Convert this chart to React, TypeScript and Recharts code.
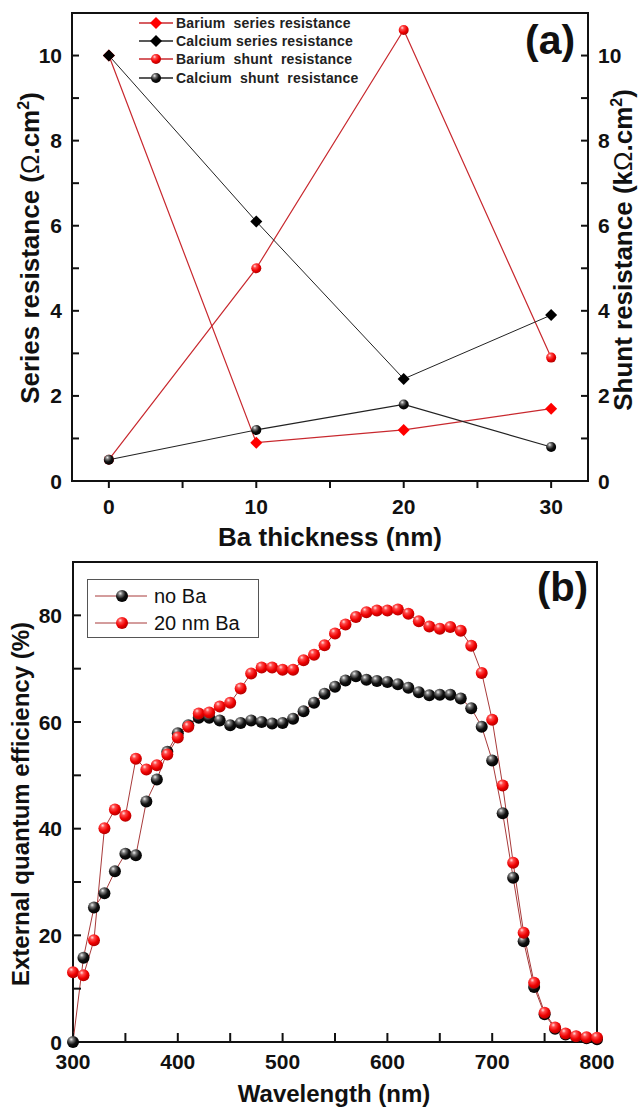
import React from "react";
import { LineChart, Line, XAxis, YAxis, ReferenceArea } from "recharts";

// ---- panel (a) data ----
const thickness = [0, 10, 20, 30];
const bariumSeries = [10, 0.9, 1.2, 1.7];
const calciumSeries = [10, 6.1, 2.4, 3.9];
const bariumShunt = [0.5, 5.0, 10.6, 2.9];
const calciumShunt = [0.5, 1.2, 1.8, 0.8];

const thicknessTicks = [0, 5, 10, 15, 20, 25, 30];
const thicknessLabels = [0, 10, 20, 30];
const resistanceTicks = [0, 1, 2, 3, 4, 5, 6, 7, 8, 9, 10];
const resistanceLabels = [0, 2, 4, 6, 8, 10];

// ---- panel (b) data ----
const wavelength = [
  300, 310, 320, 330, 340, 350, 360, 370, 380, 390, 400, 410, 420, 430, 440, 450, 460,
  470, 480, 490, 500, 510, 520, 530, 540, 550, 560, 570, 580, 590, 600, 610, 620, 630,
  640, 650, 660, 670, 680, 690, 700, 710, 720, 730, 740, 750, 760, 770, 780, 790, 800,
];
const noBa = [
  0, 15.8, 25.2, 27.9, 32, 35.3, 35, 45.1, 49.2, 54.4, 57.9, 59.4, 60.8, 60.8, 60.3, 59.4, 59.8,
  60.3, 60, 59.7, 59.8, 60.6, 62, 63.6, 65.3, 66.6, 67.8, 68.6, 67.9, 67.7, 67.5, 67.1, 66.4, 65.6,
  65, 65.1, 65.1, 64.4, 62.6, 59.1, 52.8, 42.9, 30.8, 18.9, 10.3, 5.2, 2.5, 1.4, 1.0, 0.7, 0.5,
];
const ba20nm = [
  13.1, 12.5, 19.1, 40.1, 43.6, 42.4, 53.1, 51.1, 51.9, 53.9, 57.1, 59.1, 61.6, 61.8, 62.9, 63.6, 66.3,
  69.1, 70.2, 70.2, 69.8, 69.8, 71.6, 72.6, 74.4, 76.6, 78.3, 79.7, 80.6, 80.9, 80.9, 81.1, 80.3, 78.9,
  77.9, 77.5, 77.8, 77.1, 74.3, 69.2, 60.4, 48.1, 33.6, 20.5, 11.1, 5.5, 2.7, 1.6, 1.1, 0.9, 0.8,
];
const wavelengthTicks = [300, 350, 400, 450, 500, 550, 600, 650, 700, 750, 800];
const wavelengthLabels = [300, 400, 500, 600, 700, 800];
const eqeTicks = [0, 10, 20, 30, 40, 50, 60, 70, 80];
const eqeLabels = [0, 20, 40, 60, 80];

const dataA = thickness.map((t, i) => ({
  x: t,
  bs: bariumSeries[i],
  cs: calciumSeries[i],
  bsh: bariumShunt[i],
  csh: calciumShunt[i],
}));
const dataB = wavelength.map((w, i) => ({ w, noBa: noBa[i], ba: ba20nm[i] }));

const FONT = '"Liberation Sans", Arial, sans-serif';
const RED_LINE = "#c8282e";
const EQE_LINE = "#a83a3a";
const TICK_LINE = { stroke: "#111", strokeWidth: 2 };

// label renderer: text only for major values, minor ticks keep just the tick line
function makeLabel(anchor: "middle" | "end" | "start", labels: number[], dy: number) {
  return (props: any) => {
    const { x, y, payload } = props;
    const v = payload.value;
    if (!labels.includes(v)) return <g />;
    return (
      <text x={x} y={y + dy} textAnchor={anchor} fontFamily={FONT} fontWeight={700} fontSize={21} fill="#111">
        {v}
      </text>
    );
  };
}

function Sphere({ cx, cy, r, color }: { cx: number; cy: number; r: number; color: string }) {
  return <circle cx={cx} cy={cy} r={r} fill={`url(#sphere-${color})`} />;
}

function Diamond({ cx, cy, s, fill }: { cx: number; cy: number; s: number; fill: string }) {
  return <polygon points={`${cx},${cy - s} ${cx + s},${cy} ${cx},${cy + s} ${cx - s},${cy}`} fill={fill} />;
}

const diamondDot = (fill: string) => (p: any) =>
  p.cx == null ? <g key={p.index} /> : <g key={p.index}><Diamond cx={p.cx} cy={p.cy} s={6} fill={fill} /></g>;
const sphereDot = (color: string, r: number) => (p: any) =>
  p.cx == null ? <g key={p.index} /> : <g key={p.index}><Sphere cx={p.cx} cy={p.cy} r={r} color={color} /></g>;

const legendA = [
  { label: "Barium  series resistance", line: RED_LINE, kind: "diamond", color: "#ff0000" },
  { label: "Calcium series resistance", line: "#222", kind: "diamond", color: "#000" },
  { label: "Barium  shunt  resistance", line: RED_LINE, kind: "sphere", color: "red" },
  { label: "Calcium  shunt  resistance", line: "#222", kind: "sphere", color: "black" },
];

const rotated = (cx: number, cy: number, size: number, content: React.ReactNode) => (
  <div
    style={{
      position: "absolute",
      left: cx,
      top: cy,
      transform: "translate(-50%, -50%) rotate(-90deg)",
      whiteSpace: "nowrap",
      fontSize: size,
      fontWeight: 700,
      color: "#111",
      lineHeight: 1,
    }}
  >
    {content}
  </div>
);

export default function App() {
  return (
    <div style={{ position: "absolute", left: 0, top: 0, width: 638, height: 1107, background: "#fff", fontFamily: FONT }}>
      <svg width={0} height={0} style={{ position: "absolute" }}>
        <defs>
          <radialGradient id="sphere-black" cx="0.38" cy="0.32" r="0.7" fx="0.35" fy="0.28">
            <stop offset="0" stopColor="#f0f0f0" />
            <stop offset="0.25" stopColor="#777" />
            <stop offset="0.6" stopColor="#111" />
            <stop offset="1" stopColor="#000" />
          </radialGradient>
          <radialGradient id="sphere-red" cx="0.38" cy="0.32" r="0.7" fx="0.35" fy="0.28">
            <stop offset="0" stopColor="#ffe0e0" />
            <stop offset="0.25" stopColor="#ff4a4a" />
            <stop offset="0.65" stopColor="#ee0000" />
            <stop offset="1" stopColor="#b00000" />
          </radialGradient>
        </defs>
      </svg>

      {/* panel (a) */}
      <div style={{ position: "absolute", left: 0, top: 0 }}>
        <LineChart width={638} height={530} data={dataA} margin={{ top: 13, right: 0, bottom: 0, left: 0 }}>
          <XAxis
            type="number"
            dataKey="x"
            domain={[-2.5, 32.5]}
            ticks={thicknessTicks}
            interval={0}
            height={49}
            axisLine={false}
            tickLine={TICK_LINE}
            tickSize={7}
            tickMargin={0}
            tick={makeLabel("middle", thicknessLabels, 26)}
          />
          <YAxis
            yAxisId="left"
            type="number"
            domain={[0, 11]}
            ticks={resistanceTicks}
            interval={0}
            width={72}
            axisLine={false}
            tickLine={TICK_LINE}
            tickSize={-7}
            tickMargin={17}
            tick={makeLabel("end", resistanceLabels, 7.5)}
          />
          <YAxis
            yAxisId="right"
            orientation="right"
            type="number"
            domain={[0, 11]}
            ticks={resistanceTicks}
            interval={0}
            width={50}
            axisLine={false}
            tickLine={TICK_LINE}
            tickSize={-7}
            tickMargin={17}
            tick={makeLabel("start", resistanceLabels, 7.5)}
          />
          <ReferenceArea yAxisId="left" x1={-2.5} x2={32.5} y1={0} y2={11} fill="none" stroke="#111" strokeWidth={2} />
          <Line yAxisId="left" dataKey="bs" stroke={RED_LINE} strokeWidth={1.2} dot={diamondDot("#ff0000")} isAnimationActive={false} />
          <Line yAxisId="right" dataKey="bsh" stroke={RED_LINE} strokeWidth={1.2} dot={sphereDot("red", 5)} isAnimationActive={false} />
          <Line yAxisId="left" dataKey="cs" stroke="#222" strokeWidth={1} dot={diamondDot("#000")} isAnimationActive={false} />
          <Line yAxisId="right" dataKey="csh" stroke="#222" strokeWidth={1.2} dot={sphereDot("black", 5)} isAnimationActive={false} />
        </LineChart>
      </div>

      {/* legend (a) */}
      {legendA.map((item, i) => (
        <div key={item.label} style={{ position: "absolute", left: 138, top: 23 + i * 18.2 - 9, height: 18, display: "flex", alignItems: "center" }}>
          <svg width={36} height={18}>
            <line x1={1} x2={35} y1={9} y2={9} stroke={item.line} strokeWidth={1.5} />
            {item.kind === "diamond" ? (
              <Diamond cx={18} cy={9} s={6} fill={item.color} />
            ) : (
              <Sphere cx={18} cy={9} r={5} color={item.color} />
            )}
          </svg>
          <span style={{ marginLeft: 2, fontSize: 14, fontWeight: 700, color: "#222", whiteSpace: "pre", letterSpacing: 0.2 }}>
            {item.label}
          </span>
        </div>
      ))}

      <div style={{ position: "absolute", left: 525, top: 58 - 38, fontSize: 41, fontWeight: 700, lineHeight: "41px", color: "#111" }}>(a)</div>

      {rotated(29, 248, 26, <span>Series resistance (<span style={{ fontWeight: 400 }}>Ω</span>.cm<sup style={{ fontSize: 16 }}>2</sup>)</span>)}
      {rotated(622, 250, 26, <span>Shunt resistance (k<span style={{ fontWeight: 400 }}>Ω</span>.cm<sup style={{ fontSize: 16 }}>2</sup>)</span>)}
      <div style={{ position: "absolute", left: 330, top: 537, transform: "translate(-50%, -50%)", fontSize: 26, fontWeight: 700, whiteSpace: "nowrap", color: "#111" }}>
        Ba thickness (nm)
      </div>

      {/* panel (b) */}
      <div style={{ position: "absolute", left: 0, top: 540 }}>
        <LineChart width={638} height={567} data={dataB} margin={{ top: 22, right: 41, bottom: 0, left: 0 }}>
          <XAxis
            type="number"
            dataKey="w"
            domain={[300, 800]}
            ticks={wavelengthTicks}
            interval={0}
            height={65}
            axisLine={false}
            tickLine={TICK_LINE}
            tickSize={-9}
            tickMargin={0}
            tick={makeLabel("middle", wavelengthLabels, 36)}
          />
          <YAxis
            type="number"
            domain={[0, 90]}
            ticks={eqeTicks}
            interval={0}
            width={73}
            axisLine={false}
            tickLine={TICK_LINE}
            tickSize={-8}
            tickMargin={19}
            tick={makeLabel("end", eqeLabels, 7.5)}
          />
          <ReferenceArea x1={300} x2={800} y1={0} y2={90} fill="none" stroke="#111" strokeWidth={2} />
          <Line dataKey="noBa" stroke={EQE_LINE} strokeWidth={1} dot={sphereDot("black", 6)} isAnimationActive={false} />
          <Line dataKey="ba" stroke={EQE_LINE} strokeWidth={1} dot={sphereDot("red", 6)} isAnimationActive={false} />
        </LineChart>
      </div>

      {/* legend (b) */}
      <div style={{ position: "absolute", left: 87, top: 579, width: 172, height: 59, border: "1px solid #555", boxSizing: "border-box" }} />
      {[
        { label: "no Ba", color: "black" },
        { label: "20 nm Ba", color: "red" },
      ].map((item, i) => (
        <div key={item.label} style={{ position: "absolute", left: 95, top: 596 + i * 27 - 12, height: 24, display: "flex", alignItems: "center" }}>
          <svg width={53} height={24}>
            <line x1={0} x2={52} y1={12} y2={12} stroke={EQE_LINE} strokeWidth={1} />
            <Sphere cx={27} cy={12} r={6} color={item.color} />
          </svg>
          <span style={{ marginLeft: 6, fontSize: 20, color: "#111", whiteSpace: "nowrap" }}>{item.label}</span>
        </div>
      ))}

      <div style={{ position: "absolute", left: 537, top: 604 - 37, fontSize: 40, fontWeight: 700, lineHeight: "40px", color: "#111" }}>(b)</div>

      {rotated(21, 804, 24, "External quantum efficiency (%)")}
      <div style={{ position: "absolute", left: 334, top: 1094, transform: "translate(-50%, -50%)", fontSize: 24, fontWeight: 700, whiteSpace: "nowrap", color: "#111" }}>
        Wavelength (nm)
      </div>
    </div>
  );
}
